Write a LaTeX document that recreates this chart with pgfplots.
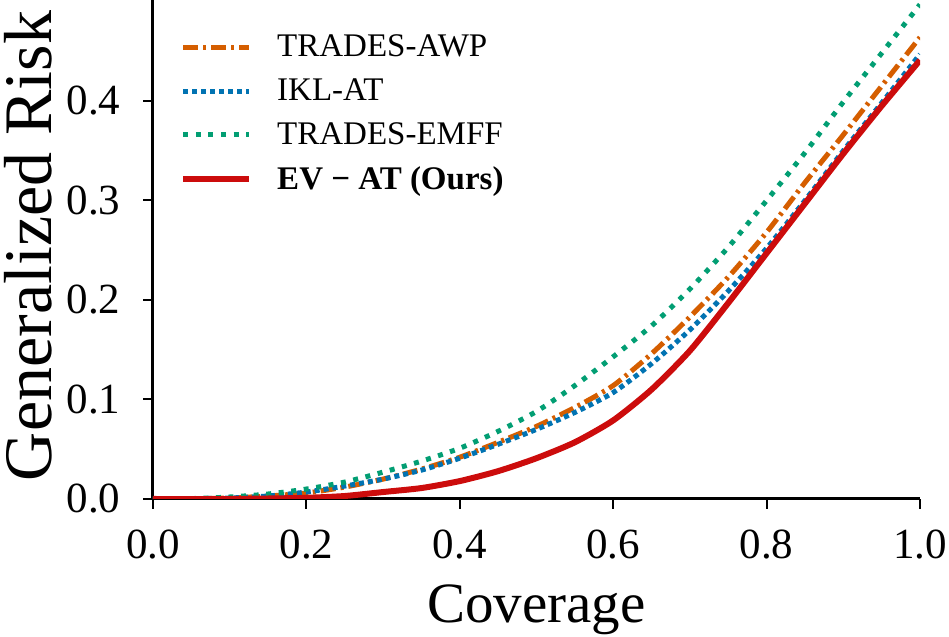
\documentclass[border=0pt]{standalone}
\usepackage{pgfplots}
\pgfplotsset{compat=1.18}
\usepackage{fontspec}
\setmainfont{Liberation Serif}
\definecolor{cOrange}{HTML}{D55E00}
\definecolor{cBlue}{HTML}{0173B2}
\definecolor{cGreen}{HTML}{029E73}
\definecolor{cRed}{HTML}{CC0C0C}
\begin{document}
\begin{tikzpicture}
\path[use as bounding box] (-76.5pt,-69pt) rectangle (398pt,249.5pt);
\begin{axis}[
  at={(0,0)}, anchor=south west,
  scale only axis, width=383.5pt, height=249.5pt,
  xmin=0, xmax=1, ymin=0, ymax=0.5015,
  axis x line*=bottom, axis y line*=left,
  axis line style={line width=1.5pt},
  every tick/.style={black, line width=1pt},
  tick align=outside, major tick length=4.8pt,
  xtick={0,0.2,0.4,0.6,0.8,1.0},
  ytick={0,0.1,0.2,0.3,0.4},
  /pgf/number format/assume math mode=true,
  /pgf/number format/fixed, /pgf/number format/fixed zerofill,
  /pgf/number format/precision=1,
  tick label style={font=\fontsize{21.5}{24}\selectfont},
  xticklabel style={anchor=base, yshift=-25pt},
  yticklabel style={anchor=east, xshift=-8pt},
  xlabel={Coverage},
  ylabel={Generalized Risk},
  xlabel style={font=\fontsize{28.5}{32}\selectfont, at={(axis description cs:0.5,-0.2465)}, anchor=base},
  ylabel style={font=\fontsize{34}{38}\selectfont, at={(axis description cs:-0.1625,0.507)}, anchor=center},
  legend cell align=left,
  legend style={draw=none, fill=none, at={(axis description cs:0.035,0.939)}, anchor=north west,
    font=\fontsize{16.5}{18}\selectfont, row sep=5.5pt, inner sep=0pt,
    /tikz/every odd column/.append style={column sep=10.5pt}},
  legend image code/.code={\draw[#1] (0pt,0pt) -- (33pt,0pt);},
]
\addplot[cOrange, line width=2.5pt, smooth, tension=0.4, dash pattern=on 7.5pt off 2.5pt on 1.5pt off 2.5pt] coordinates {
(0,0) (0.05,0.0002) (0.1,0.001) (0.15,0.003) (0.2,0.006) (0.25,0.012) (0.3,0.020) (0.35,0.030)
(0.4,0.042) (0.45,0.057) (0.5,0.073) (0.55,0.092) (0.6,0.114) (0.65,0.146) (0.7,0.183)
(0.75,0.223) (0.8,0.268) (0.85,0.318) (0.9,0.366) (0.95,0.415) (1.0,0.464)};
\addlegendentry{TRADES-AWP}
\addplot[cBlue, line width=2.5pt, smooth, tension=0.4, dash pattern=on 2.5pt off 2pt] coordinates {
(0,0) (0.05,0.0003) (0.1,0.001) (0.15,0.003) (0.2,0.007) (0.25,0.013) (0.3,0.020) (0.35,0.029)
(0.4,0.041) (0.45,0.055) (0.5,0.070) (0.55,0.087) (0.6,0.107) (0.65,0.136) (0.7,0.170)
(0.75,0.209) (0.8,0.252) (0.85,0.300) (0.9,0.350) (0.95,0.398) (1.0,0.447)};
\addlegendentry{IKL-AT}
\addplot[cGreen, line width=2.5pt, smooth, tension=0.4, dash pattern=on 2.5pt off 3.8pt] coordinates {
(0,0) (0.05,0.0004) (0.1,0.002) (0.15,0.005) (0.2,0.010) (0.25,0.017) (0.3,0.027) (0.35,0.038)
(0.4,0.051) (0.45,0.068) (0.5,0.088) (0.55,0.114) (0.6,0.143) (0.65,0.174) (0.7,0.211)
(0.75,0.253) (0.8,0.300) (0.85,0.348) (0.9,0.399) (0.95,0.448) (1.0,0.497)};
\addlegendentry{TRADES-EMFF}
\addplot[cRed, line width=3pt, smooth, tension=0.4] coordinates {
(0,0) (0.1,0.0) (0.15,0.0005) (0.2,0.0012) (0.25,0.003) (0.3,0.007) (0.35,0.011)
(0.4,0.018) (0.45,0.028) (0.5,0.041) (0.55,0.057) (0.6,0.079) (0.65,0.110) (0.7,0.149)
(0.75,0.197) (0.8,0.247) (0.85,0.297) (0.9,0.347) (0.95,0.395) (1.0,0.441)};
\addlegendentry{\textbf{EV − AT (Ours)}}
\end{axis}
\end{tikzpicture}
\end{document}
